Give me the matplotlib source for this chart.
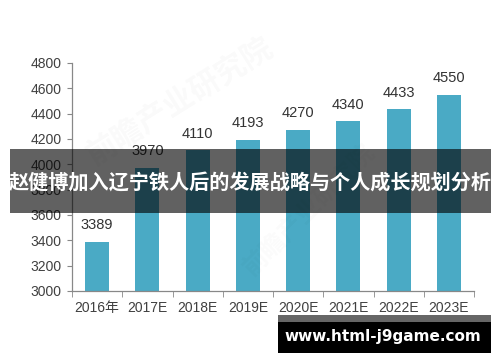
import matplotlib
matplotlib.use("Agg")
import matplotlib.pyplot as plt
from matplotlib.patches import Rectangle
import numpy as np

categories = ["2016年", "2017E", "2018E", "2019E", "2020E", "2021E", "2022E", "2023E"]
values = [3389, 3970, 4110, 4193, 4270, 4340, 4433, 4550]
yticks = [3000, 3200, 3400, 3600, 3800, 4000, 4200, 4400, 4600, 4800]
title = "赵健博加入辽宁铁人后的发展战略与个人成长规划分析"
site = "www.html-j9game.com"
watermark = "前瞻产业研究院"

plt.rcParams['font.family'] = ['Liberation Sans', 'Noto Sans CJK SC', 'DejaVu Sans']

W, H = 500, 362
fig = plt.figure(figsize=(W / 100, H / 100), dpi=100)
fig.patch.set_facecolor("white")

ax = fig.add_axes([72 / W, (H - 291) / H, (474 - 72) / W, (291 - 63) / H])
x = np.arange(len(categories))
ax.bar(x, values, width=0.48, color="#4aaac5", zorder=2)
for xi, v in zip(x, values):
    ax.annotate(str(v), (xi, v), xytext=(0, 7), textcoords="offset points",
                ha="center", va="bottom", fontsize=10.5, color="#333333")

ax.set_xlim(-0.5, len(categories) - 0.5)
ax.set_ylim(yticks[0], yticks[-1])
ax.set_yticks(yticks)
ax.set_xticks(x)
ax.set_xticklabels(categories)
ax.set_xticks(np.arange(-0.5, len(categories), 1.0), minor=True)
ax.tick_params(axis="x", which="major", length=0, pad=7, labelsize=10, labelcolor="#404040")
ax.tick_params(axis="x", which="minor", length=4, color="#888888", direction="out")
ax.tick_params(axis="y", length=3.5, color="#888888", pad=4, labelsize=10, labelcolor="#404040")
for s in ["top", "right"]:
    ax.spines[s].set_visible(False)
for s in ["left", "bottom"]:
    ax.spines[s].set_color("#888888")
    ax.spines[s].set_linewidth(0.9)

# faint watermark
fig.text(0.36, 0.72, watermark, rotation=32, fontsize=22, color="#000000", alpha=0.025,
         ha="center", va="center", family=['Noto Sans CJK SC'], fontweight="bold")
fig.text(0.62, 0.42, watermark, rotation=45, fontsize=18, color="#000000", alpha=0.02,
         ha="center", va="center", family=['Noto Sans CJK SC'], fontweight="bold")

# banner overlay
fig.patches.append(Rectangle((10 / W, (H - 213) / H), (491 - 10) / W, 64 / H,
                             transform=fig.transFigure, facecolor="black", alpha=0.62,
                             edgecolor="none", zorder=10))
fig.text(250 / W, (H - 183) / H, title, ha="center", va="center", color="white",
         fontsize=14.5, fontweight="bold", family=['Noto Sans CJK SC'], zorder=11)

# site label box
fig.patches.append(Rectangle((278 / W, (H - 322) / H), (491 - 278) / W, 7 / H,
                             transform=fig.transFigure, facecolor="#666666",
                             edgecolor="none", zorder=10))
fig.patches.append(Rectangle((278 / W, (H - 353) / H), (491 - 278) / W, 31 / H,
                             transform=fig.transFigure, facecolor="black",
                             edgecolor="none", zorder=10))
fig.text(383 / W, (H - 337) / H, site, ha="center", va="center", color="white",
         fontsize=11, fontweight="bold", family=['DejaVu Sans'], zorder=11)

fig.savefig("out.png", dpi=100)
